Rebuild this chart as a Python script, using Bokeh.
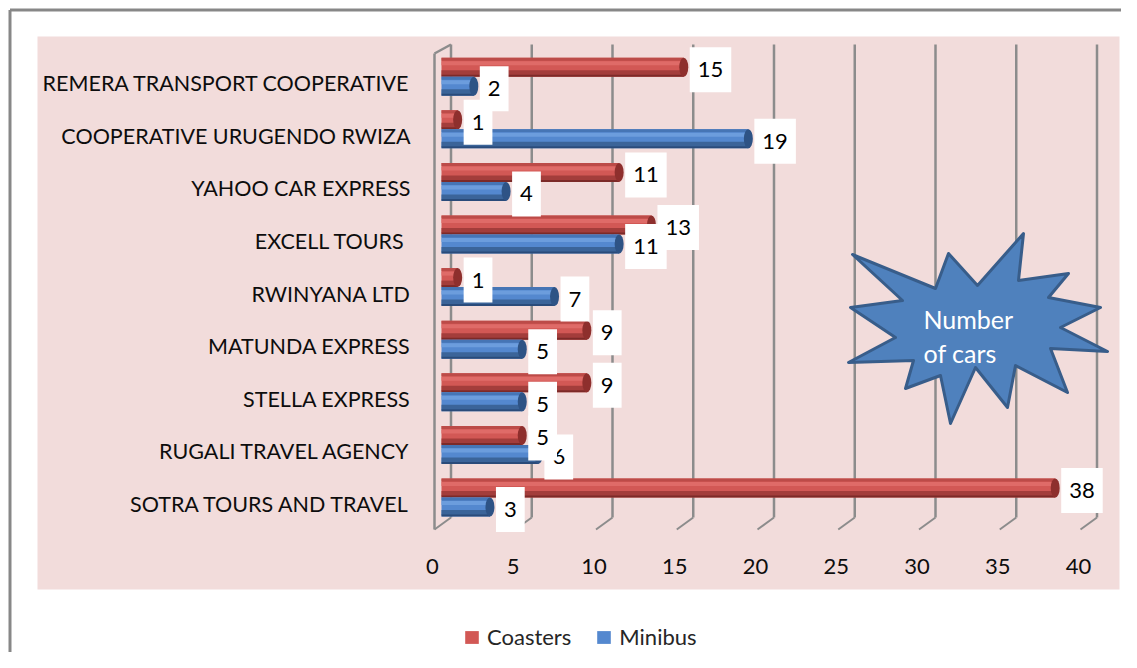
from bokeh.plotting import figure
from bokeh.models import Range1d, Legend, LegendItem, ColumnDataSource
from bokeh.core.properties import value
from bokeh.embed import file_html
from bokeh.resources import INLINE

# ---------------- data ----------------
companies = [
    "REMERA TRANSPORT COOPERATIVE",
    "COOPERATIVE URUGENDO RWIZA",
    "YAHOO CAR EXPRESS",
    "EXCELL TOURS ",
    "RWINYANA LTD",
    "MATUNDA EXPRESS",
    "STELLA EXPRESS",
    "RUGALI TRAVEL AGENCY",
    "SOTRA TOURS AND TRAVEL",
]
coasters = [15, 1, 11, 13, 1, 9, 9, 5, 38]
minibus = [2, 19, 4, 11, 7, 5, 5, 6, 3]
x_ticks = [0, 5, 10, 15, 20, 25, 30, 35, 40]
series_names = ["Coasters", "Minibus"]
star_text = ["Number", "of cars"]

# ---------------- geometry helpers (picture pixels -> data) ----------------
W, H = 1121, 652
OX, OY = 0, 0
X0 = 441 - OX            # frame px of value 0
SX = 16.15               # px per unit (x)
Y0 = 497 - OY            # frame px of bottom category centre
SY = 52.6                # px per category (y)


def dx(px):
    return (px - OX - X0) / SX


def dy(py):
    return (Y0 - (py - OY)) / SY


def ddx(d):
    return d / SX


def ddy(d):
    return d / SY


n = len(companies)
ycat = [n - 1 - i for i in range(n)]  # top company highest

FONT = value("Lato")

p = figure(width=W, height=H, output_backend="svg", toolbar_location=None,
           x_range=Range1d((0 - X0) / SX, (W - X0) / SX),
           y_range=Range1d((Y0 - H) / SY, Y0 / SY),
           x_axis_location=None, y_axis_location=None,
           min_border=0, min_border_left=0, min_border_right=0,
           min_border_top=0, min_border_bottom=0)
p.grid.visible = False
p.outline_line_color = None
p.background_fill_color = "white"
p.border_fill_color = "white"

# outer chart border (left + top visible in reference)
p.segment(x0=[dx(9.5), dx(9.5)], y0=[dy(9.5), dy(9.5)],
          x1=[dx(9.5), dx(1200)], y1=[dy(700), dy(9.5)],
          line_color="#878787", line_width=3)

# pink plot area
p.quad(left=[dx(37)], right=[dx(1119)], top=[dy(36)], bottom=[dy(589)],
       fill_color="#F2DCDB", line_color=None)

# ---------------- 3D grid ----------------
grid_col = "#8C8C8C"
back_off = ddx(9.5)
front_off = ddx(-7)
y_back_top = dy(44)
y_back_bot = dy(517)
y_front_bot = dy(529)
gx = [t + back_off for t in x_ticks]
p.segment(x0=gx, y0=[y_back_top] * len(gx), x1=gx, y1=[y_back_bot] * len(gx),
          line_color=grid_col, line_width=2.5)
p.segment(x0=gx, y0=[y_back_bot] * len(gx),
          x1=[t + front_off for t in x_ticks], y1=[y_front_bot] * len(gx),
          line_color=grid_col, line_width=2)
# left wall front edge + top bevel
p.segment(x0=[0 + front_off, 0 + front_off], y0=[y_front_bot, dy(53)],
          x1=[0 + front_off, 0 + back_off], y1=[dy(53), y_back_top],
          line_color=grid_col, line_width=2.5)

# ---------------- cylinders ----------------
bh = ddy(19)
off = ddy(9.5)
styles = {
    "Coasters": dict(base="#D25855", top="#BC4B48", hi="#DF6B68", low="#A33D3B",
                     edge="#7C2A28", cap="#8E2F2D"),
    "Minibus": dict(base="#5488CF", top="#4675B5", hi="#6C9DDD", low="#3B6499",
                    edge="#2A4B7A", cap="#2E5385"),
}


def cylinders(vals, yshift, st):
    yc = [y + yshift for y in ycat]
    src = ColumnDataSource(dict(y=yc, right=vals, left=[0] * len(vals)))
    r = p.hbar(y="y", left="left", right="right", height=bh, source=src,
               fill_color=st["base"], line_color=None)
    # shading stripes
    p.hbar(y=[y + ddy(8) for y in yc], left=0, right=vals, height=ddy(3),
           fill_color=st["top"], line_color=None)
    p.hbar(y=[y + ddy(4) for y in yc], left=0, right=vals, height=ddy(4),
           fill_color=st["hi"], line_color=None)
    p.hbar(y=[y - ddy(5.5) for y in yc], left=0, right=vals, height=ddy(5),
           fill_color=st["low"], line_color=None)
    p.hbar(y=[y - ddy(8.5) for y in yc], left=0, right=vals, height=ddy(2),
           fill_color=st["edge"], line_color=None)
    # end cap
    p.ellipse(x=vals, y=yc, width=9, height=19, width_units="screen",
              height_units="screen", fill_color=st["cap"], line_color=None)
    return r


r_coast = cylinders(coasters, off, styles["Coasters"])
r_mini = cylinders(minibus, -off, styles["Minibus"])


# ---------------- data labels (white boxes) ----------------
def labels(vals, yshift):
    p.text(x=vals, y=[y + yshift for y in ycat], text=[str(v) for v in vals],
           x_offset=6, y_offset=2.5, text_align="left", text_baseline="middle",
           text_font=FONT, text_font_size="22px", text_color="black",
           background_fill_color="white",
           padding=dict(left=8, right=8, top=15, bottom=15))


labels(minibus, -off)
labels(coasters, off)

# ---------------- category labels ----------------
p.text(x=[dx(410)] * n, y=[y - ddy(6.5) for y in ycat], text=companies,
       text_align="right", text_baseline="middle", text_font=FONT,
       text_font_size="21.5px", text_color="#0D0D0D")

# ---------------- x tick labels ----------------
p.text(x=[t + ddx(-9) for t in x_ticks], y=[dy(566)] * len(x_ticks),
       text=[str(t) for t in x_ticks], text_align="center",
       text_baseline="middle", text_font=FONT, text_font_size="22px",
       text_color="#0D0D0D")

# ---------------- starburst callout ----------------
star_px = [(852, 254), (935, 288), (948, 253), (977, 285), (1023, 233),
           (1018, 280), (1068, 273), (1048, 297), (1100, 307), (1060, 327),
           (1107, 351), (1050, 348), (1067, 392), (1015, 365), (1007, 407),
           (975, 367), (950, 423), (940, 375), (905, 388), (913, 360),
           (848, 362), (895, 337), (850, 307), (902, 300)]
p.patch(x=[dx(a) for a, b in star_px], y=[dy(b) for a, b in star_px],
        fill_color="#4F81BD", line_color="#385D8A", line_width=3,
        line_join="round")
p.text(x=[dx(923), dx(923)], y=[dy(318), dy(352)], text=star_text,
       text_align="left", text_baseline="middle", text_font=FONT,
       text_font_size="25px", text_color="white")

# ---------------- legend ----------------
legend = Legend(items=[LegendItem(label=series_names[0], renderers=[r_coast]),
                       LegendItem(label=series_names[1], renderers=[r_mini])],
                orientation="horizontal", location=(463, 2),
                glyph_width=17, glyph_height=16, label_standoff=7, spacing=24,
                padding=0, margin=0, label_text_font="Lato",
                label_text_font_size="22px", label_text_color="#262626",
                background_fill_alpha=0, border_line_alpha=0)
p.add_layout(legend)

open("out.html", "w").write(file_html(p, INLINE))
